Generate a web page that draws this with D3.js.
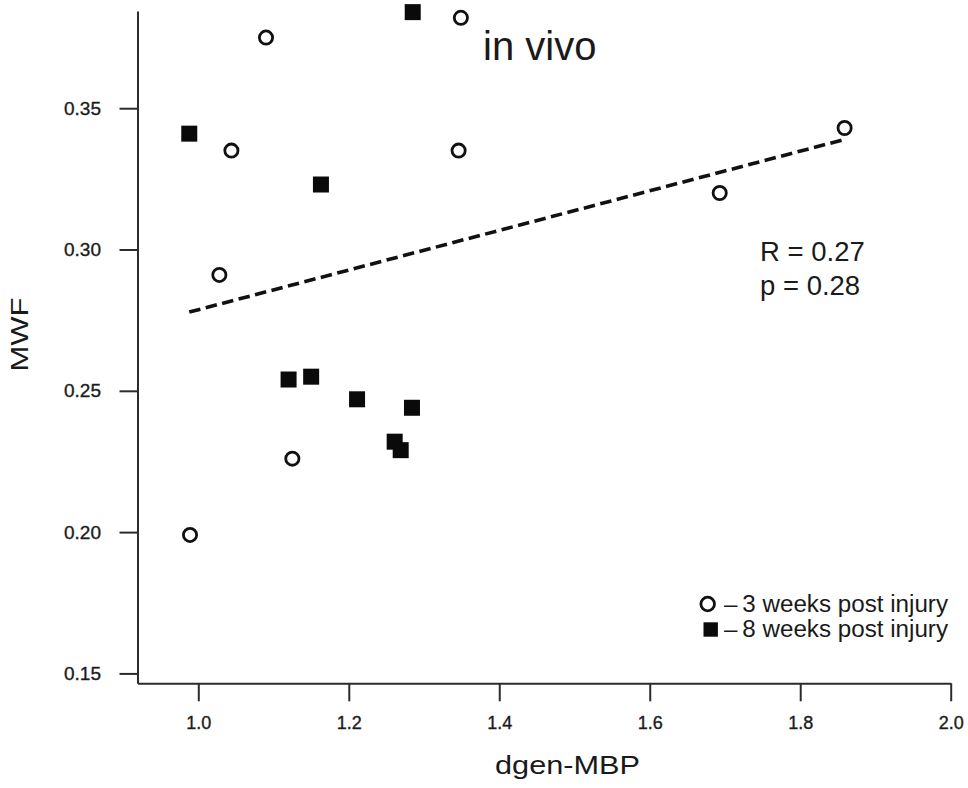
<!DOCTYPE html>
<html>
<head>
<meta charset="utf-8">
<script src="https://cdn.jsdelivr.net/npm/d3@7"></script>
<style>
  html, body { margin: 0; padding: 0; background: #fff; }
  svg { display: block; }
  text { font-family: "Liberation Sans", Arial, sans-serif; fill: #1a1a1a; }
</style>
</head>
<body>
<svg id="chart" width="968" height="788"></svg>
<script>
// dgen-MBP (x) and MWF (y) per animal, grouped by time after injury
const weeks3X = [1.349, 1.090, 1.044, 1.346, 1.028, 1.125, 0.989, 1.859, 1.693];
const weeks3Y = [0.382, 0.375, 0.335, 0.335, 0.291, 0.226, 0.199, 0.343, 0.320];
const weeks8X = [1.285, 0.988, 1.163, 1.120, 1.150, 1.211, 1.284, 1.261, 1.269];
const weeks8Y = [0.384, 0.341, 0.323, 0.254, 0.255, 0.247, 0.244, 0.232, 0.229];

const xTicks = [1.0, 1.2, 1.4, 1.6, 1.8, 2.0];
const yTicks = [0.15, 0.20, 0.25, 0.30, 0.35];
const legendLabels = ["\u2013\u20093 weeks post injury", "\u2013\u20098 weeks post injury"];
const statLabels = ["R = 0.27", "p = 0.28"];
const panelLabel = "in vivo";
const xTitle = "dgen-MBP";
const yTitle = "MWF";

const svg = d3.select("#chart");

const x = d3.scaleLinear().domain([0.9192, 2.0]).range([137.5, 950.7]);
const y = d3.scaleLinear().domain([0.1465, 0.3844]).range([683.3, 11]);

// axes
const xAxis = d3.axisBottom(x)
  .tickValues(xTicks)
  .tickFormat(d3.format(".1f"))
  .tickSize(18)
  .tickSizeOuter(0)
  .tickPadding(15);
const yAxis = d3.axisLeft(y)
  .tickValues(yTicks)
  .tickFormat(d3.format(".2f"))
  .tickSize(18)
  .tickSizeOuter(0)
  .tickPadding(18.5);

const gx = svg.append("g").attr("transform", `translate(0,${y.range()[0]})`).call(xAxis);
const gy = svg.append("g").attr("transform", `translate(${x.range()[0]},0)`).call(yAxis);

[gx, gy].forEach(g => {
  g.select(".domain").attr("stroke", "#2b2b2b").attr("stroke-width", 2);
  g.selectAll(".tick line").attr("stroke", "#2b2b2b").attr("stroke-width", 2);
  g.selectAll(".tick text")
    .attr("fill", "#222")
    .attr("stroke", "#222")
    .attr("stroke-width", 0.35)
    .style("font-family", "'Liberation Sans', Arial, sans-serif");
});
gx.selectAll(".tick text").style("font-size", "18px");
gy.selectAll(".tick text").style("font-size", "19px");

// axis titles
svg.append("text")
  .attr("x", 567.5).attr("y", 774)
  .attr("text-anchor", "middle")
  .attr("textLength", 145).attr("lengthAdjust", "spacingAndGlyphs")
  .style("font-size", "26.5px")
  .text(xTitle);

svg.append("text")
  .attr("transform", "translate(28,334.5) rotate(-90)")
  .attr("text-anchor", "middle")
  .attr("textLength", 74).attr("lengthAdjust", "spacingAndGlyphs")
  .style("font-size", "23.5px")
  .text(yTitle);

// least-squares fit over all animals
const allX = weeks3X.concat(weeks8X);
const allY = weeks3Y.concat(weeks8Y);
const mx = d3.mean(allX), my = d3.mean(allY);
const sxy = d3.sum(allX, (v, i) => (v - mx) * (allY[i] - my));
const sxx = d3.sum(allX, v => (v - mx) * (v - mx));
const slope = sxy / sxx;
const intercept = my - slope * mx;
const fitX = d3.extent(allX);

svg.append("path")
  .datum(fitX.map(v => [v, intercept + slope * v]))
  .attr("d", d3.line().x(d => x(d[0])).y(d => y(d[1])))
  .attr("fill", "none")
  .attr("stroke", "#111")
  .attr("stroke-width", 3.6)
  .attr("stroke-dasharray", "11.5,5.5");

// 3 weeks: open circles
svg.append("g").selectAll("circle")
  .data(weeks3X.map((v, i) => [v, weeks3Y[i]]))
  .join("circle")
  .attr("cx", d => x(d[0]))
  .attr("cy", d => y(d[1]))
  .attr("r", 6.6)
  .attr("fill", "#fff")
  .attr("stroke", "#111")
  .attr("stroke-width", 2.8);

// 8 weeks: filled squares
const sq = 16;
svg.append("g").selectAll("rect")
  .data(weeks8X.map((v, i) => [v, weeks8Y[i]]))
  .join("rect")
  .attr("x", d => x(d[0]) - sq / 2)
  .attr("y", d => y(d[1]) - sq / 2)
  .attr("width", sq)
  .attr("height", sq)
  .attr("fill", "#0a0a0a");

// annotations
svg.append("text")
  .attr("x", 483).attr("y", 60)
  .style("font-size", "40px")
  .text(panelLabel);

svg.append("g").selectAll("text")
  .data(statLabels)
  .join("text")
  .attr("x", 760)
  .attr("y", (d, i) => 260.5 + i * 34.5)
  .style("font-size", "27.5px")
  .text(d => d);

// legend
const legend = svg.append("g");
legend.append("circle")
  .attr("cx", 707.7).attr("cy", 604)
  .attr("r", 6.8)
  .attr("fill", "#fff").attr("stroke", "#111").attr("stroke-width", 2.8);
legend.append("rect")
  .attr("x", 710.7 - 7.2).attr("y", 629.5 - 7.2)
  .attr("width", 14.4).attr("height", 14.4)
  .attr("fill", "#0a0a0a");
legend.selectAll("text")
  .data(legendLabels)
  .join("text")
  .attr("x", 724)
  .attr("y", (d, i) => 611.7 + i * 25.6)
  .attr("textLength", 224).attr("lengthAdjust", "spacingAndGlyphs")
  .style("font-size", "23.5px")
  .text(d => d);
</script>
</body>
</html>
